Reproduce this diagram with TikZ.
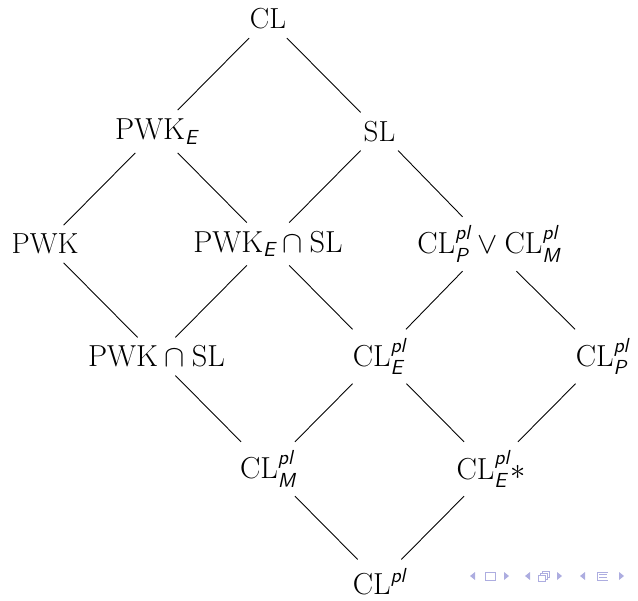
\documentclass[tikz,border=0pt]{standalone}
\usepackage{amsmath}
\newcommand{\sfi}[1]{\text{\sffamily\itshape #1}}
\definecolor{navblue}{rgb}{0.68,0.68,0.88}
\begin{document}
\begin{tikzpicture}
[thick,lattice/.style={inner sep=0.16cm,font=\fontsize{16.5}{20}\selectfont},
 link/.style={line width=0.5pt}]
\useasboundingbox (0,0) rectangle (12.76,-12.02);
\node[lattice] (clpl) at (7.59,-11.63) {$\mathrm{CL}^{\sfi{pl}}$};
\node[lattice] (clm) at (5.36,-9.38) {$\mathrm{CL}^{\sfi{pl}}_{\sfi{M}}$}
  edge[link] (clpl);
\node[lattice] (cles) at (9.82,-9.38) {$\mathrm{CL}^{\sfi{pl}}_{\sfi{E}}{*}$}
  edge[link] (clpl);
\node[lattice] (pwksl) at (3.13,-7.13) {$\mathrm{PWK}\cap\mathrm{SL}$}
  edge[link] (clm);
\node[lattice] (cle) at (7.59,-7.13) {$\mathrm{CL}^{\sfi{pl}}_{\sfi{E}}$}
  edge[link] (clm)
  edge[link] (cles);
\node[lattice] (clp) at (12.05,-7.13) {$\mathrm{CL}^{\sfi{pl}}_{\sfi{P}}$}
  edge[link] (cles);
\node[lattice] (pwk) at (0.90,-4.88) {PWK}
  edge[link] (pwksl);
\node[lattice] (pwkesl) at (5.36,-4.88) {$\mathrm{PWK}_{\sfi{E}}\cap\mathrm{SL}$}
  edge[link] (pwksl)
  edge[link] (cle);
\node[lattice] (clpm) at (9.78,-4.88) {$\mathrm{CL}^{\sfi{pl}}_{\sfi{P}}\vee\mathrm{CL}^{\sfi{pl}}_{\sfi{M}}$}
  edge[link] (cle)
  edge[link] (clp);
\node[lattice] (pwke) at (3.13,-2.63) {$\mathrm{PWK}_{\sfi{E}}$}
  edge[link] (pwk)
  edge[link] (pwkesl);
\node[lattice] (sl) at (7.59,-2.63) {SL}
  edge[link] (pwkesl)
  edge[link] (clpm);
\node[lattice] (cl) at (5.36,-0.38) {CL}
  edge[link] (pwke)
  edge[link] (sl);
% navigation symbols
\begin{scope}[navblue,line width=0.4pt,yshift=-11.52cm]
\fill (9.40,0) -- (9.50,0.08) -- (9.50,-0.08) -- cycle;
\draw (9.70,-0.08) rectangle (9.90,0.08);
\fill (10.18,0) -- (10.08,0.08) -- (10.08,-0.08) -- cycle;
\fill (10.50,0) -- (10.60,0.08) -- (10.60,-0.08) -- cycle;
\draw (10.76,-0.10) rectangle (10.90,0.02);
\draw (10.80,0.02) -- (10.80,0.06) -- (10.94,0.06) -- (10.94,-0.06) -- (10.90,-0.06);
\draw (10.84,0.06) -- (10.84,0.10) -- (10.98,0.10) -- (10.98,-0.02) -- (10.94,-0.02);
\fill (11.24,0) -- (11.14,0.08) -- (11.14,-0.08) -- cycle;
\fill (11.60,0) -- (11.70,0.08) -- (11.70,-0.08) -- cycle;
\draw (11.94,0.08) -- (12.16,0.08);
\draw (11.98,0.03) -- (12.14,0.03);
\draw (11.98,-0.02) -- (12.14,-0.02);
\draw (11.94,-0.08) -- (12.16,-0.08);
\draw (11.94,0.08) -- (11.94,-0.08);
\fill (12.48,0) -- (12.38,0.08) -- (12.38,-0.08) -- cycle;
\end{scope}
\end{tikzpicture}
\end{document}
